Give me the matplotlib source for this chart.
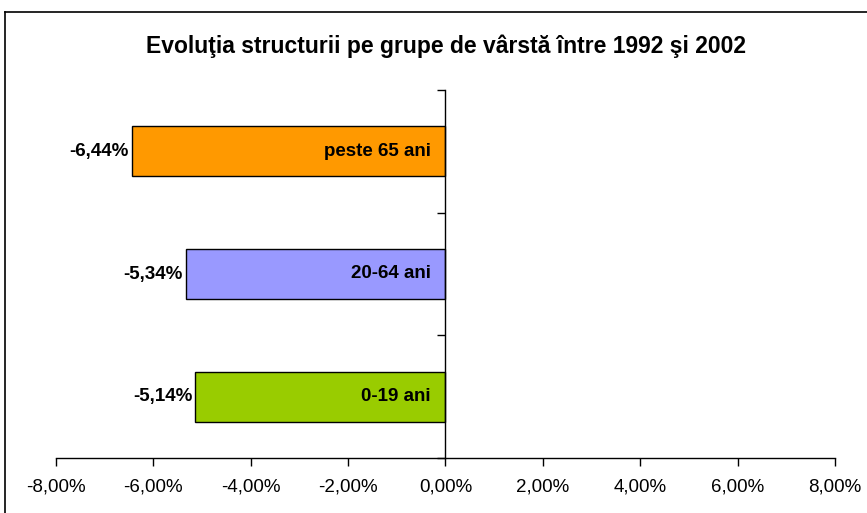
import matplotlib
matplotlib.use("Agg")
import matplotlib.pyplot as plt
from matplotlib.lines import Line2D
from matplotlib.ticker import FixedLocator, FuncFormatter

categories = ["0-19 ani", "20-64 ani", "peste 65 ani"]
values = [-5.14, -5.34, -6.44]
colors = ["#99CC00", "#9999FF", "#FF9900"]
xticks = [-8, -6, -4, -2, 0, 2, 4, 6, 8]
title = "Evoluţia structurii pe grupe de vârstă între 1992 şi 2002"

plt.rcParams['font.family'] = ['Liberation Sans', 'DejaVu Sans']

fig = plt.figure(figsize=(8.67, 5.13), dpi=100)
ax = fig.add_axes([56/867, 1-458/513, (835-56)/867, (458-90)/513])

ypos = list(range(len(categories)))
ax.barh(ypos, values, height=0.41, color=colors, edgecolor="black", linewidth=1)

def fmt(v):
    return f"{v:.2f}".replace(".", ",") + "%"

for y, v, c in zip(ypos, values, categories):
    ax.text(v - 0.06, y, fmt(v), ha="right", va="center", fontsize=13.5, fontweight="bold")
    ax.text(-0.3, y, c, ha="right", va="center", fontsize=13.5, fontweight="bold")

ax.set_xlim(-8, 8)
ax.set_ylim(-0.5, 2.5)
ax.set_xticks(xticks)
ax.xaxis.set_major_formatter(FuncFormatter(lambda v, p: fmt(v)))
ax.tick_params(axis="x", direction="out", length=6, width=1, labelsize=13.5, pad=9)
ax.set_yticks([])
ax.yaxis.set_minor_locator(FixedLocator([-0.5, 0.5, 1.5, 2.5]))
ax.tick_params(axis="y", which="minor", direction="out", length=6, width=1)
ax.spines["left"].set_position(("data", 0))
ax.spines["right"].set_visible(False)
ax.spines["top"].set_visible(False)
for s in ("left", "bottom"):
    ax.spines[s].set_linewidth(1)

fig.text(446/867, 1-46/513, title, ha="center", va="center", fontsize=16.5, fontweight="bold")

fig.add_artist(Line2D([5/867, 5/867], [0, 1-12/513], transform=fig.transFigure, color="black", lw=1.2))
fig.add_artist(Line2D([5/867, 1], [1-12/513, 1-12/513], transform=fig.transFigure, color="black", lw=1.2))

fig.savefig("out.png", dpi=100)
